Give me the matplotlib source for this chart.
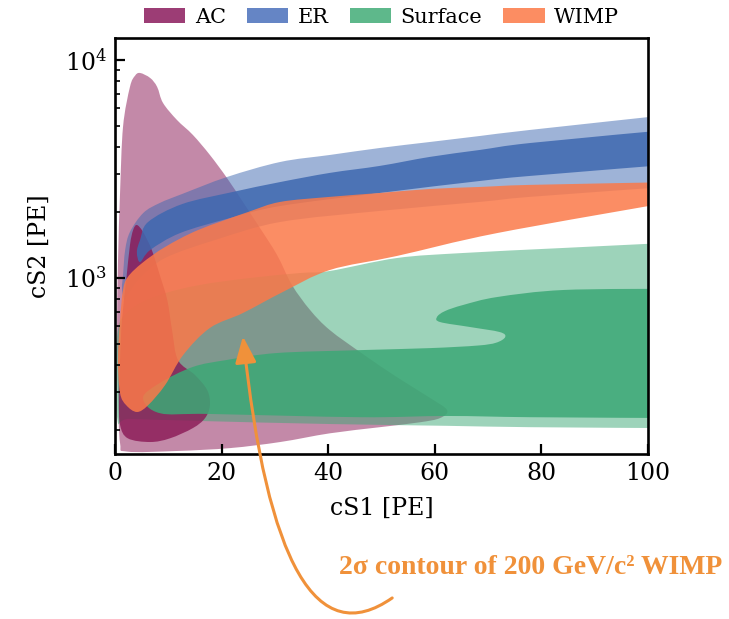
import numpy as np
import matplotlib.pyplot as plt
from matplotlib.patches import Patch, PathPatch, FancyArrowPatch
from matplotlib.path import Path

plt.rcParams['font.family'] = 'DejaVu Serif'
plt.rcParams['mathtext.fontset'] = 'dejavuserif'

# contour outlines in (cS1, cS2) for each background / signal model
ac_2s_s1 = [4.7, 6.6, 7.9, 9.0, 11.6, 14.6, 17.8, 21.0, 24.0, 27.2, 30.4, 33.2, 36.6, 40.3, 46.5,
            52.9, 59.1, 62.3, 61.0, 57.2, 49.7, 40.3, 31.0, 21.6, 11.6, 2.25, 0.94, 0.56, 0.38, 0.56,
            0.94, 1.5, 2.8, 3.75]
ac_2s_s2 = [8710, 8260, 7520, 6350, 5310, 4530, 3665, 2875, 2230, 1695, 1275, 929, 713, 577, 448,
            351, 282, 248, 228, 218, 207, 194, 177, 166, 161, 160, 175, 297, 596, 1210,
            2455, 4935, 7520, 8460]

ac_1s_s1 = [4.1, 5.25, 6.9, 8.4, 9.8, 10.7, 11.8, 15.0, 17.3, 17.8, 16.9, 14.6, 10.3, 6.6, 2.4,
            0.94, 0.75, 0.94, 1.3, 2.1, 2.8, 3.4]
ac_1s_s2 = [1750, 1626, 1344, 1032, 793, 577, 421, 359, 306, 261, 228, 205, 184, 177, 184,
            212, 276, 421, 642, 979, 1417, 1660]

sf_2s_s1 = [0.4, 2.8, 8.4, 15.9, 25.3, 34.7, 40.3, 52.9, 65.3, 84.1, 104, 104, 77.9, 62.3, 40.3,
            15.9, 2.8, 0.4]
sf_2s_s2 = [548, 713, 836, 929, 1000, 1054, 1077, 1235, 1302, 1373, 1450, 205, 207, 210, 214,
            221, 226, 228]

sf_1s_s1 = [5.25, 8.4, 14.6, 21.0, 30.4, 46.0, 59.1, 68.0, 71.5, 73.2, 72.2, 66.6, 61.0, 60.4,
            61.9, 65.3, 71.7, 84.1, 104, 104, 77.9, 62.3, 46.0, 17.8, 8.4]
sf_1s_s2 = [282, 330, 391, 421, 453, 467, 477, 490, 505, 536, 565, 596, 628, 662,
            705, 752, 818, 881, 892, 228, 230, 233, 230, 238, 240]

er_2s_s1 = [1.3, 1.5, 1.9, 2.8, 5.3, 8.4, 12.6, 21.0, 31.0, 40.3, 49.7, 59.1, 68.5, 77.9, 104,
            104, 77.9, 68.5, 49.7, 31.0, 18.8, 9.4, 4.7, 2.4, 1.7]
er_2s_s2 = [900, 1032, 1344, 1626, 1987, 2208, 2428, 2904, 3404, 3665, 3946, 4204, 4480, 4775, 5600,
            2620, 2355, 2233, 2030, 1806, 1494, 1235, 1000, 836, 793]

er_1s_s1 = [4.1, 4.7, 6.2, 12.6, 22.0, 31.0, 40.3, 49.7, 59.1, 68.5, 77.9, 104,
            104, 77.9, 68.5, 49.7, 31.0, 21.6, 12.2, 6.6, 4.7]
er_1s_s2 = [1315, 1494, 1806, 2183, 2477, 2754, 3033, 3266, 3592, 3866, 4159, 4780,
            3310, 2938, 2786, 2454, 2138, 1884, 1607, 1344, 1184]

wimp_s1 = [104, 77.9, 68.5, 59.1, 49.7, 40.3, 31.0, 25.0, 15.6, 9.4, 5.1, 2.4, 1.5, 0.94,
           0.56, 0.94, 2.1, 4.1, 6.2, 9.4, 12.8, 17.8, 24.0, 31.5, 40.3, 52.9, 71.7, 104]
wimp_s2 = [2750, 2673, 2615, 2560, 2454, 2355, 2233, 2009, 1660, 1388, 1172, 1011, 881, 642,
           421, 297, 261, 243, 261, 323, 444, 590, 691, 863, 1088, 1262, 1607, 2220]

labels = ['AC', 'ER', 'Surface', 'WIMP']
legend_colors = ['#9c3d75', '#6585c5', '#5eb88b', '#fc8d62']

ac_color = '#891553'
sf_color = '#3ca876'
er_color = '#3e68b0'
wimp_color = '#fb7949'
note_color = '#f0913a'


def contour_patch(ax, s1, s2, **kw):
    # closed Catmull-Rom outline through the points, built in (x, log y);
    # points past the right axis edge are kept as sharp corners
    pts = np.column_stack([s1, np.log10(s2)])
    n = len(pts)
    tang = np.array([(pts[(i + 1) % n] - pts[i - 1]) / 6.0 for i in range(n)])
    tang[pts[:, 0] > 100] = 0.0
    verts = [pts[0]]
    codes = [Path.MOVETO]
    for i in range(n):
        j = (i + 1) % n
        verts += [pts[i] + tang[i], pts[j] - tang[j], pts[j]]
        codes += [Path.CURVE4] * 3
    verts = np.array(verts)
    verts[:, 1] = 10 ** verts[:, 1]
    patch = PathPatch(Path(verts, codes), lw=0, **kw)
    ax.add_patch(patch)
    return patch


fig = plt.figure(figsize=(7.29, 6.19), dpi=100)
ax = fig.add_axes([0.1578, 0.2666, 0.7311, 0.6720])
ax.set_yscale('log')

# outer (2 sigma) contours first, inner (1 sigma) on top, WIMP last
contour_patch(ax, ac_2s_s1, ac_2s_s2, color=ac_color, alpha=0.5)
contour_patch(ax, sf_2s_s1, sf_2s_s2, color=sf_color, alpha=0.5)
contour_patch(ax, er_2s_s1, er_2s_s2, color=er_color, alpha=0.5)
contour_patch(ax, ac_1s_s1, ac_1s_s2, color=ac_color, alpha=0.78)
contour_patch(ax, sf_1s_s1, sf_1s_s2, color=sf_color, alpha=0.85)
contour_patch(ax, er_1s_s1, er_1s_s2, color=er_color, alpha=0.85)
contour_patch(ax, wimp_s1, wimp_s2, color=wimp_color, alpha=0.85)

ax.set_xlim(0, 100)
ax.set_ylim(156, 12600)
ax.set_xticks([0, 20, 40, 60, 80, 100])
ax.set_xlabel('cS1 [PE]', fontsize=17, labelpad=8)
ax.set_ylabel('cS2 [PE]', fontsize=17, labelpad=10)
ax.tick_params(which='both', direction='in', top=False, right=False, labelsize=17)
ax.tick_params(which='major', length=7.5, width=1.6, pad=6)
ax.tick_params(which='minor', length=3.6, width=1.2)
for sp in ax.spines.values():
    sp.set_linewidth(1.9)

handles = [Patch(facecolor=c, edgecolor='none') for c in legend_colors]
ax.legend(handles, labels, loc='center', bbox_to_anchor=(0.5, 1.05), ncol=4,
          frameon=False, fontsize=15, handlelength=2.0, handleheight=0.7,
          handletextpad=0.45, columnspacing=1.0, borderaxespad=0)

# curved arrow from the note up to the WIMP contour
tip = fig.transFigure.inverted().transform(ax.transData.transform((24.0, 540)))
arrow_path = Path([(0.538, 0.034), (0.383, -0.094), tuple(tip)],
                  [Path.MOVETO, Path.CURVE3, Path.CURVE3])
arrow = FancyArrowPatch(path=arrow_path, transform=fig.transFigure,
                        arrowstyle='-|>,head_length=0.8,head_width=0.32',
                        mutation_scale=20, lw=2.2, color=note_color,
                        shrinkA=0, shrinkB=0)
fig.add_artist(arrow)
fig.text(0.7284, 0.0824, '2σ contour of 200 GeV/c² WIMP', ha='center', va='center',
         fontsize=20, fontweight='bold', family=['Liberation Serif', 'DejaVu Serif'],
         color=note_color)

fig.savefig('out.png', dpi=100)
